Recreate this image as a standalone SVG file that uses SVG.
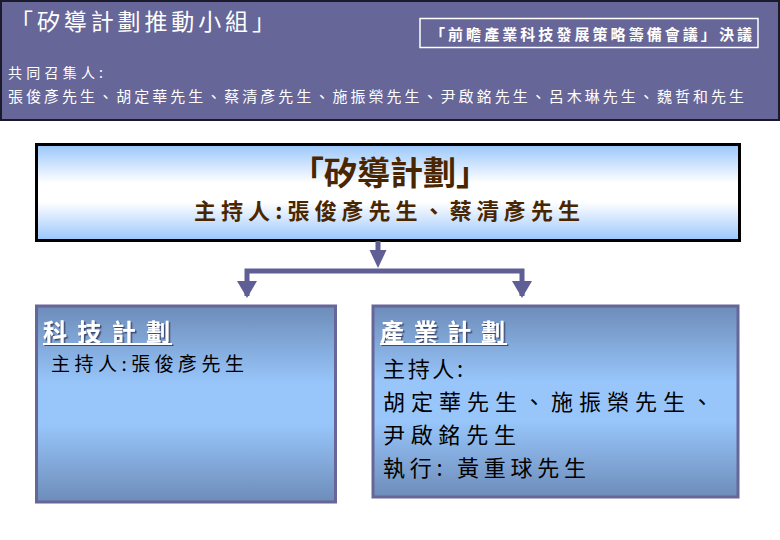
<svg xmlns="http://www.w3.org/2000/svg" width="780" height="540" viewBox="0 0 780 540">
<defs>
<linearGradient id="gMain" x1="0" y1="0" x2="0" y2="1">
<stop offset="0" stop-color="#99c6fb"/>
<stop offset="0.4" stop-color="#ffffff"/>
<stop offset="0.6" stop-color="#ffffff"/>
<stop offset="1" stop-color="#99c6fb"/>
</linearGradient>
<linearGradient id="gSub" x1="0" y1="0" x2="0" y2="1">
<stop offset="0" stop-color="#6d8cb9"/>
<stop offset="0.4" stop-color="#98c6fb"/>
<stop offset="0.6" stop-color="#98c6fb"/>
<stop offset="1" stop-color="#6d8cb9"/>
</linearGradient>
<filter id="shadow" x="-10%" y="-10%" width="130%" height="140%">
<feDropShadow dx="1.5" dy="1.5" stdDeviation="0.3" flood-color="#333355" flood-opacity="0.8"/>
</filter>
</defs>
<style>
text { font-family: "Noto Sans CJK TC", "Noto Sans CJK SC", "DejaVu Sans", sans-serif; }
.wt { fill: #ffffff; }
.bk { fill: #000000; }
.brown { fill: #4a2600; font-weight: bold; }
.arrow { fill: #5f5f96; }
</style>
<rect x="0" y="0" width="780" height="540" fill="#ffffff"/>

<g id="banner">
<rect x="1" y="1" width="778" height="119" fill="#666699" stroke="#1a1a2a" stroke-width="2"/>
<text x="10" y="30" class="wt" font-size="23" textLength="265" lengthAdjust="spacing">「矽導計劃推動小組」</text>
<rect x="420" y="18.5" width="338" height="29" fill="none" stroke="#ffffff" stroke-width="1.5"/>
<text x="430" y="40" class="wt" font-size="15" font-weight="bold" textLength="322" lengthAdjust="spacing">「前瞻產業科技發展策略籌備會議」決議</text>
<text x="8" y="78" class="wt" font-size="14" textLength="95" lengthAdjust="spacing">共同召集人:</text>
<text x="8" y="102" class="wt" font-size="15" textLength="736" lengthAdjust="spacing">張俊彥先生、胡定華先生、蔡清彥先生、施振榮先生、尹啟銘先生、呂木琳先生、魏哲和先生</text>
</g>

<g id="main">
<rect x="36.5" y="144.5" width="703" height="96" fill="url(#gMain)" stroke="#000000" stroke-width="3"/>
<text x="390" y="185" class="brown" font-size="33" text-anchor="middle" textLength="198" lengthAdjust="spacing">「矽導計劃」</text>
<text x="387" y="219" class="brown" font-size="22" text-anchor="middle" textLength="386" lengthAdjust="spacing">主持人:張俊彥先生、蔡清彥先生</text>
</g>

<g id="connectors">
<rect x="375.5" y="241" width="5" height="10" class="arrow"/>
<polygon points="369.5,250 386.5,250 378,268" class="arrow"/>
<path d="M247,296 V271 H522 V296" fill="none" stroke="#5f5f96" stroke-width="5"/>
<polygon points="237,281 257,281 247,298" class="arrow"/>
<polygon points="512,281 532,281 522,298" class="arrow"/>
</g>

<g id="tech">
<rect x="36.5" y="306" width="299" height="196" fill="url(#gSub)" stroke="#666699" stroke-width="3"/>
<text x="43" y="341" class="wt" font-size="24" font-weight="bold" filter="url(#shadow)" textLength="127" lengthAdjust="spacing">科技計劃</text>
<rect x="43" y="343" width="129" height="2" fill="#ffffff" filter="url(#shadow)"/>
<text x="51" y="371" class="bk" font-size="19" textLength="193" lengthAdjust="spacing">主持人:張俊彥先生</text>
</g>

<g id="industry">
<rect x="373" y="306" width="365" height="191" fill="url(#gSub)" stroke="#666699" stroke-width="3"/>
<text x="380" y="341" class="wt" font-size="24" font-weight="bold" filter="url(#shadow)" textLength="125" lengthAdjust="spacing">產業計劃</text>
<rect x="380" y="343" width="127" height="2" fill="#ffffff" filter="url(#shadow)"/>
<text x="383" y="377" class="bk" font-size="22" textLength="80" lengthAdjust="spacing">主持人:</text>
<text x="383" y="410" class="bk" font-size="22" textLength="330" lengthAdjust="spacing">胡定華先生、施振榮先生、</text>
<text x="383" y="443" class="bk" font-size="22" textLength="133" lengthAdjust="spacing">尹啟銘先生</text>
<text x="383" y="476" class="bk" font-size="22" textLength="203" lengthAdjust="spacing">執行: 黃重球先生</text>
</g>
</svg>
